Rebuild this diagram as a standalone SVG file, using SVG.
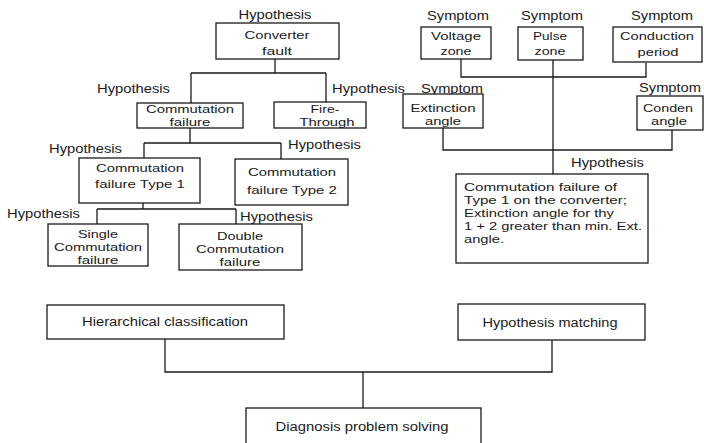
<svg xmlns="http://www.w3.org/2000/svg" width="704" height="443" viewBox="0 0 704 443">
<style>
text{font-family:"Liberation Sans",Arial,sans-serif;font-size:12.5px;fill:#1a1a1a}
.c{text-anchor:middle}
.m{font-size:11.5px}
.bx{fill:#fff;stroke:#1a1a1a;stroke-width:1.3}
.ln{fill:none;stroke:#1a1a1a;stroke-width:1.3}
</style>
<rect width="704" height="443" fill="#fff"/>
<g id="connectors">
<path class="ln" d="M275,59V73M191,73H326M191,73V103M326,73V102"/>
<path class="ln" d="M190,128V143M144,143H281M144,143V158M281,143V159"/>
<path class="ln" d="M143,203V209M97,209H236M97,209V224M236,209V224"/>
<path class="ln" d="M461,59V77H646V63M553,60V174"/>
<path class="ln" d="M443,128V150H672V130"/>
<path class="ln" d="M165,339V372H552V340M363,372V408"/>
</g>
<g id="converter-fault">
<text class="c" x="275" y="19" textLength="73" lengthAdjust="spacingAndGlyphs">Hypothesis</text>
<rect class="bx" x="216" y="23" width="123" height="36"/>
<text class="c m" x="277" y="39" textLength="65" lengthAdjust="spacingAndGlyphs">Converter</text>
<text class="c m" x="277" y="55" textLength="30" lengthAdjust="spacingAndGlyphs">fault</text>
</g>
<g id="commutation-failure">
<text x="97" y="93" textLength="73" lengthAdjust="spacingAndGlyphs">Hypothesis</text>
<rect class="bx" x="137" y="103" width="106" height="25"/>
<text class="c m" x="190" y="113" textLength="88" lengthAdjust="spacingAndGlyphs">Commutation</text>
<text class="c m" x="190" y="126" textLength="41" lengthAdjust="spacingAndGlyphs">failure</text>
</g>
<g id="fire-through">
<text x="332" y="93" textLength="73" lengthAdjust="spacingAndGlyphs">Hypothesis</text>
<rect class="bx" x="274" y="102" width="92" height="26"/>
<text class="c m" x="325" y="113" textLength="29" lengthAdjust="spacingAndGlyphs">Fire-</text>
<text class="c m" x="327" y="126" textLength="55" lengthAdjust="spacingAndGlyphs">Through</text>
</g>
<g id="type1">
<text x="49" y="152.5" textLength="73" lengthAdjust="spacingAndGlyphs">Hypothesis</text>
<rect class="bx" x="79" y="158" width="121" height="45"/>
<text class="c m" x="140" y="172" textLength="88" lengthAdjust="spacingAndGlyphs">Commutation</text>
<text class="c m" x="140" y="188" textLength="90" lengthAdjust="spacingAndGlyphs">failure Type 1</text>
</g>
<g id="type2">
<text x="288" y="149" textLength="73" lengthAdjust="spacingAndGlyphs">Hypothesis</text>
<rect class="bx" x="235" y="159" width="113" height="46"/>
<text class="c m" x="292" y="176" textLength="88" lengthAdjust="spacingAndGlyphs">Commutation</text>
<text class="c m" x="292" y="194" textLength="90" lengthAdjust="spacingAndGlyphs">failure Type 2</text>
</g>
<g id="single">
<text x="7" y="218" textLength="73" lengthAdjust="spacingAndGlyphs">Hypothesis</text>
<rect class="bx" x="48" y="224" width="100" height="42"/>
<text class="c m" x="98" y="238" textLength="40" lengthAdjust="spacingAndGlyphs">Single</text>
<text class="c m" x="98" y="251" textLength="88" lengthAdjust="spacingAndGlyphs">Commutation</text>
<text class="c m" x="98" y="264" textLength="41" lengthAdjust="spacingAndGlyphs">failure</text>
</g>
<g id="double">
<text x="240" y="220.5" textLength="73" lengthAdjust="spacingAndGlyphs">Hypothesis</text>
<rect class="bx" x="179" y="224" width="123" height="46"/>
<text class="c m" x="240" y="240" textLength="46" lengthAdjust="spacingAndGlyphs">Double</text>
<text class="c m" x="240" y="253" textLength="88" lengthAdjust="spacingAndGlyphs">Commutation</text>
<text class="c m" x="240" y="266" textLength="41" lengthAdjust="spacingAndGlyphs">failure</text>
</g>
<g id="voltage-zone">
<text class="c" x="458" y="19.5" textLength="62" lengthAdjust="spacingAndGlyphs">Symptom</text>
<rect class="bx" x="421" y="27" width="70" height="32"/>
<text class="c m" x="456" y="40" textLength="50" lengthAdjust="spacingAndGlyphs">Voltage</text>
<text class="c m" x="456" y="55" textLength="31" lengthAdjust="spacingAndGlyphs">zone</text>
</g>
<g id="pulse-zone">
<text class="c" x="552" y="19.5" textLength="62" lengthAdjust="spacingAndGlyphs">Symptom</text>
<rect class="bx" x="518" y="27" width="65" height="33"/>
<text class="c m" x="550" y="40" textLength="34" lengthAdjust="spacingAndGlyphs">Pulse</text>
<text class="c m" x="550" y="55" textLength="31" lengthAdjust="spacingAndGlyphs">zone</text>
</g>
<g id="conduction-period">
<text class="c" x="662" y="19.5" textLength="62" lengthAdjust="spacingAndGlyphs">Symptom</text>
<rect class="bx" x="613" y="27" width="89" height="35"/>
<text class="c m" x="657" y="40" textLength="74" lengthAdjust="spacingAndGlyphs">Conduction</text>
<text class="c m" x="658" y="56" textLength="41" lengthAdjust="spacingAndGlyphs">period</text>
</g>
<g id="extinction-angle">
<text class="c" x="452" y="93" textLength="62" lengthAdjust="spacingAndGlyphs">Symptom</text>
<rect class="bx" x="403" y="94" width="80" height="34"/>
<text class="c m" x="443" y="112" textLength="65" lengthAdjust="spacingAndGlyphs">Extinction</text>
<text class="c m" x="443" y="125" textLength="36" lengthAdjust="spacingAndGlyphs">angle</text>
</g>
<g id="conden-angle">
<text class="c" x="670" y="91.5" textLength="62" lengthAdjust="spacingAndGlyphs">Symptom</text>
<rect class="bx" x="637" y="96" width="66" height="34"/>
<text class="c m" x="668" y="112" textLength="50" lengthAdjust="spacingAndGlyphs">Conden</text>
<text class="c m" x="669" y="125" textLength="36" lengthAdjust="spacingAndGlyphs">angle</text>
</g>
<g id="hypothesis-result">
<text x="571" y="167" textLength="73" lengthAdjust="spacingAndGlyphs">Hypothesis</text>
<rect class="bx" x="456" y="174" width="192" height="89"/>
<text class="m" x="464" y="191" textLength="153" lengthAdjust="spacingAndGlyphs">Commutation failure of</text>
<text class="m" x="464" y="204" textLength="163" lengthAdjust="spacingAndGlyphs">Type 1 on the converter;</text>
<text class="m" x="464" y="217" textLength="150" lengthAdjust="spacingAndGlyphs">Extinction angle for thy</text>
<text class="m" x="464" y="230" textLength="178" lengthAdjust="spacingAndGlyphs">1 + 2 greater than min. Ext.</text>
<text class="m" x="464" y="243" textLength="40" lengthAdjust="spacingAndGlyphs">angle.</text>
</g>
<g id="hierarchical-classification">
<rect class="bx" x="47" y="305" width="237" height="34"/>
<text class="c" x="165" y="326" textLength="166" lengthAdjust="spacingAndGlyphs">Hierarchical classification</text>
</g>
<g id="hypothesis-matching">
<rect class="bx" x="458" y="304" width="187" height="36"/>
<text class="c" x="550" y="326.5" textLength="135" lengthAdjust="spacingAndGlyphs">Hypothesis matching</text>
</g>
<g id="diagnosis-problem-solving">
<rect class="bx" x="246" y="408" width="235" height="40"/>
<text class="c" x="362" y="431" textLength="173" lengthAdjust="spacingAndGlyphs">Diagnosis problem solving</text>
</g>
</svg>
